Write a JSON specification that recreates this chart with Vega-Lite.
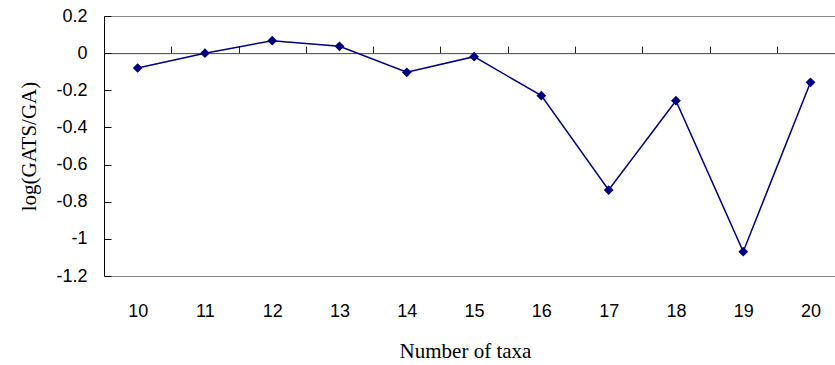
{
  "$schema": "https://vega.github.io/schema/vega-lite/v6.json",
  "width": 731,
  "height": 260,
  "autosize": {"type": "none"},
  "padding": {"left": 104, "top": 16, "right": 0, "bottom": 89},
  "background": "white",
  "config": {
    "view": {"stroke": null},
    "axis": {"labelFont": "Liberation Sans", "titleFont": "Liberation Serif", "titleFontWeight": "normal", "labelColor": "black", "titleColor": "black", "grid": false}
  },
  "data": {"values": [
    {"taxa": 10, "value": -0.08},
    {"taxa": 11, "value": 0.0},
    {"taxa": 12, "value": 0.067},
    {"taxa": 13, "value": 0.037},
    {"taxa": 14, "value": -0.103},
    {"taxa": 15, "value": -0.019},
    {"taxa": 16, "value": -0.229},
    {"taxa": 17, "value": -0.737},
    {"taxa": 18, "value": -0.256},
    {"taxa": 19, "value": -1.069},
    {"taxa": 20, "value": -0.157}
  ]},
  "encoding": {
    "y": {
      "field": "value", "type": "quantitative",
      "scale": {"domain": [-1.2, 0.2], "nice": false, "zero": false},
      "axis": {
        "orient": "left",
        "values": [0.2, 0, -0.2, -0.4, -0.6, -0.8, -1, -1.2],
        "labelExpr": "datum.value + ''",
        "tickSize": -7, "labelPadding": 24, "labelFontSize": 18,
        "domainColor": "#000000", "tickColor": "#000000",
        "title": "log(GATS/GA)", "titleFontSize": 21, "titlePadding": 16
      }
    }
  },
  "layer": [
    {
      "mark": {"type": "line", "opacity": 0},
      "encoding": {
        "x": {
          "field": "taxa", "type": "quantitative",
          "scale": {"domain": [9.5, 20.364], "nice": false, "zero": false},
          "axis": {"orient": "top", "ticks": false, "labels": false, "title": null, "domainColor": "#888888"}
        }
      }
    },
    {
      "mark": {"type": "line", "opacity": 0},
      "encoding": {
        "x": {
          "field": "taxa", "type": "quantitative",
          "scale": {"domain": [9.5, 20.364], "nice": false, "zero": false},
          "axis": {"orient": "bottom", "offset": -222.86, "values": [10.5, 11.5, 12.5, 13.5, 14.5, 15.5, 16.5, 17.5, 18.5, 19.5], "tickSize": -7, "labels": false, "title": null, "domainColor": "#444444", "tickColor": "#222222"}
        }
      }
    },
    {
      "mark": {"type": "line", "color": "#000080", "strokeWidth": 1.5, "point": {"shape": "diamond", "size": 95, "filled": true, "color": "#000080"}},
      "encoding": {
        "x": {
          "field": "taxa", "type": "quantitative",
          "scale": {"domain": [9.5, 20.364], "nice": false, "zero": false},
          "axis": {"orient": "bottom", "values": [10, 11, 12, 13, 14, 15, 16, 17, 18, 19, 20], "ticks": false, "labelPadding": 26, "labelFontSize": 18, "labelFlush": false, "domainColor": "#888888", "title": "Number of taxa", "titleFontSize": 21, "titlePadding": 20, "titleX": 361}
        }
      }
    }
  ],
  "resolve": {"axis": {"x": "independent"}}
}
